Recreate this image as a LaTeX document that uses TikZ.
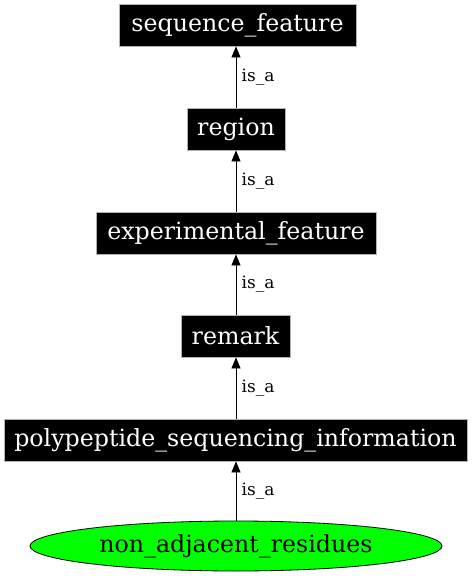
\documentclass[tikz,border=0pt]{standalone}
\usepackage{fontspec}
\setmainfont{DejaVu Serif}
\usetikzlibrary{shapes.geometric,arrows.meta}
\begin{document}
\begin{tikzpicture}[x=1pt,y=-1pt,
  term/.style={draw=gray!60,fill=black,text=white,font=\fontsize{23.7}{25}\selectfont,
    minimum height=42pt,inner sep=0pt,line width=0.8pt},
  leaf/.style={ellipse,draw=black,fill=green,font=\fontsize{23.7}{25}\selectfont,
    minimum width=412pt,minimum height=50pt,inner sep=0pt,line width=0.8pt},
  isa/.style={-{Triangle[length=11pt,width=9pt]},line width=0.8pt},
  lbl/.style={font=\fontsize{17}{18}\selectfont,anchor=west}]
\useasboundingbox (0,0) rectangle (473,576);
\node[term,minimum width=237pt] (sf) at (237.5,25) {sequence\_feature};
\node[term,minimum width=98pt] (rg) at (236,129) {region};
\node[term,minimum width=280pt] (ef) at (236,233) {experimental\_feature};
\node[term,minimum width=109pt] (rm) at (235.5,336) {remark};
\node[term,minimum width=463pt] (ps) at (235.5,440) {polypeptide\_sequencing\_information};
\node[leaf] (nr) at (236,546) {non\_adjacent\_residues};
\draw[isa] (rg.north -| 236,0) -- (sf.south -| 236,0) node[lbl,midway,xshift=2pt] {is\_a};
\draw[isa] (ef.north -| 236,0) -- (rg.south -| 236,0) node[lbl,midway,xshift=2pt] {is\_a};
\draw[isa] (rm.north -| 236,0) -- (ef.south -| 236,0) node[lbl,midway,xshift=2pt] {is\_a};
\draw[isa] (ps.north -| 236,0) -- (rm.south -| 236,0) node[lbl,midway,xshift=2pt] {is\_a};
\draw[isa] (nr.north -| 236,0) -- (ps.south -| 236,0) node[lbl,midway,xshift=2pt] {is\_a};
\end{tikzpicture}
\end{document}
